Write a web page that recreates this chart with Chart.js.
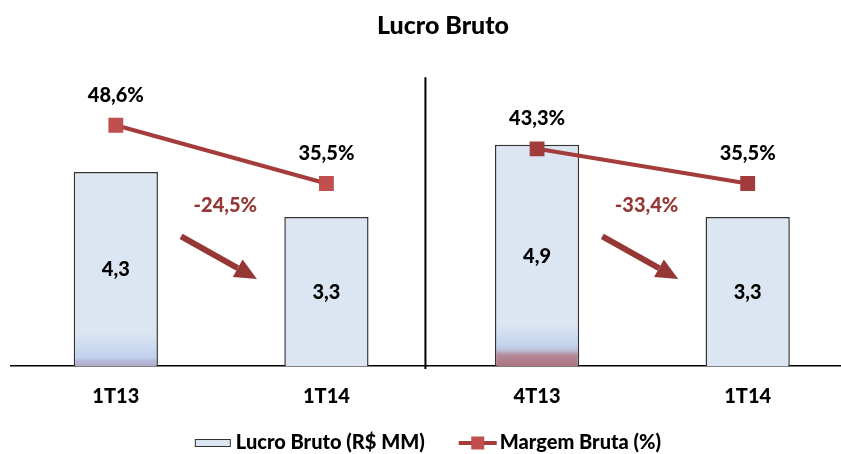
<!DOCTYPE html>
<html>
<head>
<meta charset="utf-8">
<script src="https://cdn.jsdelivr.net/npm/chart.js@4"></script>
<style>
  html, body { margin: 0; padding: 0; background: #fff; overflow: hidden; }
  #wrap { width: 886px; height: 454px; }
</style>
</head>
<body>
<div id="wrap"><canvas id="chart"></canvas></div>
<script>
// data
const categories = ['1T13', '1T14', '4T13', '1T14'];
const lucroBruto = [4.3, 3.3, 4.9, 3.3];           // R$ MM
const margemAno = [48.6, 35.5, null, null];         // %
const margemTri = [null, null, 43.3, 35.5];         // %
const variacoes = ['-24,5%', null, '-33,4%'];       // change between category i and i+1
const legendTexts = ['Lucro Bruto (R$ MM)', 'Margem Bruta (%)'];

const FONT = 'Lato, "Open Sans", sans-serif';
const LABEL_FONT = '900 20px ' + FONT;
const DARK_RED = '#953735';

const fmt = v => v.toFixed(1).replace('.', ',');

// bar fill with a soft tint at the bottom (as in the original)
function barFill(ctx) {
    const chart = ctx.chart;
    const area = chart.chartArea;
    if (!area) return '#dce6f2';
    const i = ctx.dataIndex;
    const c = chart.ctx;
    if (i === 0) {
        const g = c.createLinearGradient(0, area.bottom - 34, 0, area.bottom);
        g.addColorStop(0, '#dce6f2');
        g.addColorStop(0.75, '#c2d2ee');
        g.addColorStop(0.85, '#b6b8d8');
        g.addColorStop(1, '#b0acca');
        return g;
    }
    if (i === 2) {
        const g = c.createLinearGradient(0, area.bottom - 42, 0, area.bottom);
        g.addColorStop(0, '#dce6f2');
        g.addColorStop(0.5, '#c4d4ee');
        g.addColorStop(0.62, '#bcc0da');
        g.addColorStop(0.75, '#b48896');
        g.addColorStop(1, '#ae7484');
        return g;
    }
    return '#dce6f2';
}

const extras = {
    id: 'extras',
    afterDatasetsDraw(chart) {
        const c = chart.ctx;
        const x = chart.scales.x, y = chart.scales.y;
        const area = chart.chartArea;
        const step = x.getPixelForValue(1) - x.getPixelForValue(0);
        c.save();

        // separator between the two comparisons
        const sx = x.getPixelForValue(1.47);
        c.strokeStyle = '#000';
        c.lineWidth = 2;
        c.beginPath();
        c.moveTo(sx, y.getPixelForValue(6.4));
        c.lineTo(sx, area.bottom + 3);
        c.stroke();

        c.font = LABEL_FONT;
        c.textAlign = 'center';
        c.textBaseline = 'middle';

        // value labels inside bars
        c.fillStyle = '#000';
        chart.getDatasetMeta(2).data.forEach((bar, i) => {
            c.fillText(fmt(lucroBruto[i]), bar.x, (bar.y + bar.base) / 2 + 1);
        });
        // labels above line points
        [0, 1].forEach(d => {
            const vals = chart.data.datasets[d].data;
            chart.getDatasetMeta(d).data.forEach((pt, i) => {
                if (vals[i] == null) return;
                c.fillText(fmt(vals[i]) + '%', pt.x, pt.y - 30);
            });
        });

        // variation arrows
        variacoes.forEach((txt, i) => {
            if (!txt) return;
            const x0 = x.getPixelForValue(i) + 0.31 * step;
            const x1 = x.getPixelForValue(i) + 0.67 * step;
            const y0 = y.getPixelForValue(2.87);
            const y1 = y.getPixelForValue(1.93);
            const ang = Math.atan2(y1 - y0, x1 - x0);
            const head = 22, hw = 10;
            const bx = x1 - head * Math.cos(ang), by = y1 - head * Math.sin(ang);
            c.strokeStyle = DARK_RED;
            c.fillStyle = DARK_RED;
            c.lineWidth = 6;
            c.beginPath(); c.moveTo(x0, y0); c.lineTo(bx, by); c.stroke();
            c.beginPath();
            c.moveTo(x1, y1);
            c.lineTo(bx + hw * Math.sin(ang), by - hw * Math.cos(ang));
            c.lineTo(bx - hw * Math.sin(ang), by + hw * Math.cos(ang));
            c.closePath();
            c.fill();
            c.fillText(txt, x.getPixelForValue(i) + 0.52 * step, y.getPixelForValue(3.55));
        });

        // title
        c.fillStyle = '#000';
        c.font = '900 25px ' + FONT;
        c.fillText('Lucro Bruto', 443, 26);

        // legend
        c.font = LABEL_FONT;
        c.textAlign = 'left';
        const w1 = c.measureText(legendTexts[0]).width;
        const w2 = c.measureText(legendTexts[1]).width;
        const total = 36 + 5 + w1 + 34 + 38 + 3 + w2;
        let lx = 428 - total / 2;
        const ly = 443;
        c.fillStyle = '#dce6f2';
        c.fillRect(lx, ly - 3.5, 36, 7);
        c.strokeStyle = '#333';
        c.lineWidth = 1;
        c.strokeRect(lx + 0.5, ly - 3.5, 35, 7);
        lx += 41;
        c.fillStyle = '#000';
        c.fillText(legendTexts[0], lx, ly);
        lx += w1 + 34;
        c.strokeStyle = '#a53c3c';
        c.lineWidth = 4;
        c.beginPath(); c.moveTo(lx, ly); c.lineTo(lx + 38, ly); c.stroke();
        c.fillStyle = '#c0504d';
        c.fillRect(lx + 12.5, ly - 6.5, 13, 13);
        lx += 41;
        c.fillStyle = '#000';
        c.fillText(legendTexts[1], lx, ly);
        c.restore();
    }
};

new Chart(document.getElementById('chart'), {
    data: {
        labels: categories,
        datasets: [
            {
                type: 'line',
                label: legendTexts[1],
                data: margemAno,
                yAxisID: 'y2',
                order: 1,
                borderColor: '#a53c3c',
                borderWidth: 4,
                pointStyle: 'rect',
                pointRadius: 10.5,
                pointBackgroundColor: '#c0504d',
                pointBorderWidth: 0,
                spanGaps: false
            },
            {
                type: 'line',
                label: legendTexts[1],
                data: margemTri,
                yAxisID: 'y2',
                order: 1,
                borderColor: '#a53c3c',
                borderWidth: 4,
                pointStyle: 'rect',
                pointRadius: 10.5,
                pointBackgroundColor: '#a23b3b',
                pointBorderWidth: 0,
                spanGaps: false
            },
            {
                type: 'bar',
                label: legendTexts[0],
                data: lucroBruto,
                yAxisID: 'y',
                order: 2,
                backgroundColor: barFill,
                borderColor: '#333',
                borderWidth: 1.5,
                categoryPercentage: 0.8,
                barPercentage: 0.5
            }
        ]
    },
    options: {
        responsive: true,
        maintainAspectRatio: false,
        animation: false,
        layout: { padding: { left: 9, right: 33, top: 60, bottom: 34 } },
        scales: {
            x: {
                grid: { display: false },
                border: { display: true, color: '#000', width: 1.5 },
                ticks: { color: '#000', font: { family: FONT, size: 20, weight: '900' }, padding: 11 }
            },
            y: { display: false, min: 0, max: 6.78 },
            y2: { display: false, min: -5.6, max: 63.3 }
        },
        plugins: {
            title: { display: false },
            legend: { display: false },
            tooltip: { enabled: false }
        }
    },
    plugins: [extras]
});
</script>
</body>
</html>
